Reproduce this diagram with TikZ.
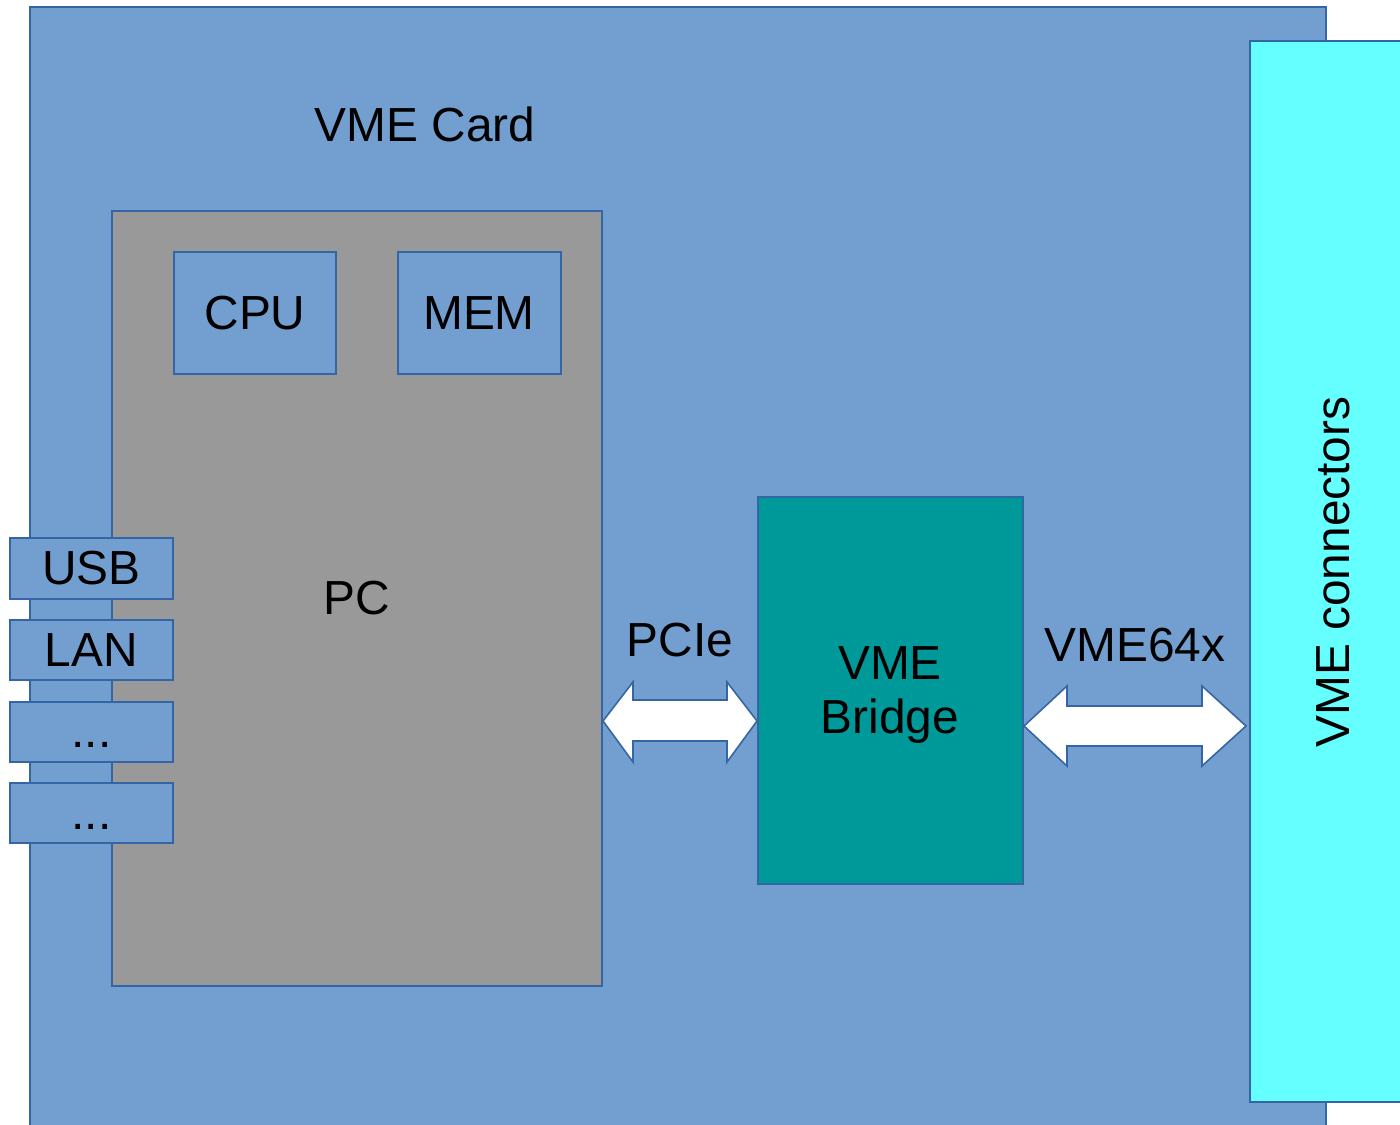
\documentclass[tikz,border=0pt]{standalone}
\usepackage{fontspec}
\setmainfont{Liberation Sans}
\definecolor{cardfill}{HTML}{729FCF}
\definecolor{edge}{HTML}{3465A4}
\definecolor{pcfill}{HTML}{999999}
\definecolor{bridgefill}{HTML}{009999}
\definecolor{connfill}{HTML}{66FFFF}
\begin{document}
\begin{tikzpicture}[x=0.01cm,y=-0.01cm,
  box/.style={draw=edge,line width=0.45pt},
  lbl/.style={font=\fontsize{13.6pt}{15.4pt}\selectfont,inner sep=0pt,text=black},
  port/.style={box,fill=cardfill},
  arrowshape/.style={fill=white,draw=edge,line width=0.45pt,line join=miter}]
\useasboundingbox[fill=white] (0,0) rectangle (1400,1125);
% VME card
\path[box,fill=cardfill] (1326,1130) -- (1326,7) -- (30,7) -- (30,1130);
% VME connectors
\path[box,fill=connfill] (1405,41) -- (1250,41) -- (1250,1102) -- (1405,1102);
\node[lbl,rotate=90] (conn) at (1333,572) {VME connectors};
% PC
\path[box,fill=pcfill] (112,211) rectangle (602,986);
\node[lbl] (pc) at (357,598) {PC};
\node[lbl] (card) at (425,124) {VME Card};
% CPU / MEM
\path[port] (174,252) rectangle (336,374);
\node[lbl] (cpu) at (255,313) {CPU};
\path[port] (398,252) rectangle (561,374);
\node[lbl] (mem) at (479,313) {MEM};
% ports
\path[port] (10,538) rectangle (173,599);
\node[lbl] (usb) at (91.5,568) {USB};
\path[port] (10,620) rectangle (173,680);
\node[lbl] (lan) at (91.5,650) {LAN};
\path[port] (10,702) rectangle (173,762);
\node[lbl,anchor=base] (d1) at (91.5,748) {...};
\path[port] (10,783) rectangle (173,843);
\node[lbl,anchor=base] (d2) at (91.5,829) {...};
% Bridge
\path[box,fill=bridgefill] (758,497) rectangle (1023,884);
\node[lbl,align=center] (bridge) at (890,695) {VME\\Bridge};
% PCIe arrow
\path[arrowshape] (603,721) -- (633,682) -- (633,700) -- (727,700) -- (727,682) -- (757,721)
  -- (727,762) -- (727,741) -- (633,741) -- (633,762) -- cycle;
\node[lbl] (pcie) at (680,640) {PCIe};
% VME64x arrow
\path[arrowshape] (1024,726) -- (1067,686) -- (1067,706) -- (1202,706) -- (1202,686) -- (1246,726)
  -- (1202,766) -- (1202,746) -- (1067,746) -- (1067,766) -- cycle;
\node[lbl] (vme64) at (1135,645) {VME64x};
\end{tikzpicture}
\end{document}
